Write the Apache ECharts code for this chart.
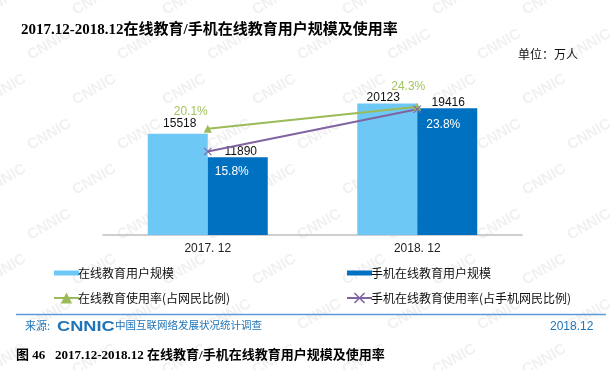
<!DOCTYPE html>
<html><head><meta charset="utf-8">
<script src="https://cdn.jsdelivr.net/npm/echarts@6/dist/echarts.min.js"></script>
<style>html,body{margin:0;padding:0;background:#fff}#c{width:610px;height:370px}</style>
</head><body><div id="c"></div>
<script>
// ---- data ----
const categories = ['2017. 12', '2018. 12'];
const onlineEduUsers = [15518, 20123];
const mobileEduUsers = [11890, 19416];
const onlineEduRate = [20.1, 24.3];
const mobileEduRate = [15.8, 23.8];
const seriesNames = ['在线教育用户规模', '手机在线教育用户规模', '在线教育使用率(占网民比例)', '手机在线教育使用率(占手机网民比例)'];

const CJK = "'Noto Sans CJK SC', sans-serif";
const SANS = "'Liberation Sans', 'Noto Sans CJK SC', sans-serif";
const SERIF = "'Liberation Serif', 'Noto Sans CJK SC', serif";
const lightBlue = '#6ec8f5';
const darkBlue = '#0070c0';
const green = '#9bbb59';
const purple = '#8064a2';
const xIcon = 'path://M0,1 L1,0 L5,4 L9,0 L10,1 L6,5 L10,9 L9,10 L5,6 L1,10 L0,9 L4,5 Z';

const lightOffsets = [[2, 0], [-4, 4]];
const darkOffsets = [[3, 4], [1, 4]];
const greenOffsets = [[-17, 5], [-9, 2]];
const purpleOffsets = [[24, 0], [26, -5]];

function withOffsets(vals, offs) {
  return vals.map((v, i) => ({ value: v, label: { offset: offs[i] } }));
}

// faint watermark tiles (decoration)
const watermark = [];
for (let r = 0; r < 9; r++) {
  for (let c = 0; c < 8; c++) {
    watermark.push({
      type: 'text', x: c * 90 + (r % 2) * 45 - 20, y: r * 45 + 5, rotation: Math.PI / 6, z: -10, silent: true,
      style: { text: 'CNNIC', font: 'bold 15px ' + SANS, fill: '#f1f1f1' }
    });
  }
}

const chart = echarts.init(document.getElementById('c'), null, { renderer: 'canvas' });
chart.setOption({
  backgroundColor: '#fff',
  animation: false,
  grid: { left: 103, right: 88, top: 75, bottom: 135, containLabel: false },
  xAxis: {
    type: 'category', data: categories,
    axisLine: { lineStyle: { color: '#bfbfbf', width: 1.5 } },
    axisTick: { show: false },
    axisLabel: { color: '#222', fontFamily: SANS, fontSize: 12, margin: 8 }
  },
  yAxis: [
    { type: 'value', min: 0, max: 24500, show: false, splitLine: { show: false } },
    { type: 'value', min: 0, max: 30.3, show: false, splitLine: { show: false } }
  ],
  legend: [
    {
      orient: 'vertical', left: 48, top: 262, itemGap: 13, itemWidth: 25, itemHeight: 14,
      textStyle: { fontFamily: CJK, fontSize: 12, color: '#111', padding: [0, 0, 0, -6] },
      data: [
        { name: seriesNames[0], icon: 'path://M0,0 h25 v5 h-25 Z' },
        { name: seriesNames[2] }
      ]
    },
    {
      orient: 'vertical', left: 341, top: 262, itemGap: 13, itemWidth: 25, itemHeight: 14,
      textStyle: { fontFamily: CJK, fontSize: 12, color: '#111', padding: [0, 0, 0, -6] },
      data: [
        { name: seriesNames[1], icon: 'path://M0,0 h25 v5 h-25 Z' },
        { name: seriesNames[3] }
      ]
    }
  ],
  series: [
    {
      name: seriesNames[0], type: 'bar', barWidth: 60, barGap: '0%',
      itemStyle: { color: lightBlue },
      label: { show: true, position: 'top', distance: 4, color: '#111', fontFamily: SANS, fontSize: 12 },
      data: withOffsets(onlineEduUsers, lightOffsets)
    },
    {
      name: seriesNames[1], type: 'bar', barWidth: 60, barGap: '0%',
      itemStyle: { color: darkBlue },
      label: { show: true, position: 'top', distance: 4, color: '#111', fontFamily: SANS, fontSize: 12 },
      data: withOffsets(mobileEduUsers, darkOffsets)
    },
    {
      name: seriesNames[2], type: 'line', yAxisIndex: 1,
      symbol: 'triangle', symbolSize: 8,
      lineStyle: { color: green, width: 2 }, itemStyle: { color: green },
      label: { show: true, position: 'top', distance: 12, color: '#a4c45e', fontFamily: SANS, fontSize: 12, formatter: p => p.value.toFixed(1) + '%' },
      data: withOffsets(onlineEduRate, greenOffsets)
    },
    {
      name: seriesNames[3], type: 'line', yAxisIndex: 1,
      symbol: xIcon, symbolSize: 8,
      lineStyle: { color: purple, width: 2 }, itemStyle: { color: purple },
      label: { show: true, position: 'bottom', distance: 10, color: '#fff', fontFamily: SANS, fontSize: 12, formatter: p => p.value.toFixed(1) + '%' },
      data: withOffsets(mobileEduRate, purpleOffsets)
    }
  ],
  graphic: watermark.concat([
    { type: 'text', left: 21, top: 23, style: { text: '2017.12-2018.12在线教育/手机在线教育用户规模及使用率', font: 'bold 15px ' + SERIF, fill: '#000' } },
    { type: 'text', left: 518, top: 48, style: { text: '单位：万人', font: '12px ' + CJK, fill: '#111' } },
    { type: 'line', shape: { x1: 16, y1: 314.5, x2: 606, y2: 314.5 }, style: { stroke: '#5b9bd5', lineWidth: 1.5 } },
    { type: 'text', left: 25, top: 320, style: { text: '来源:', font: '11px ' + CJK, fill: '#1f74b8' } },
    { type: 'text', x: 57, y: 320, scaleX: 1.3, style: { text: 'CNNIC', font: 'bold 14px ' + SANS, fill: '#1f74b8' } },
    { type: 'text', left: 115, top: 320, style: { text: '中国互联网络发展状况统计调查', font: '10.5px ' + CJK, fill: '#1f74b8' } },
    { type: 'text', left: 550, top: 321, style: { text: '2018.12', font: '12px ' + SANS, fill: '#1f74b8' } },
    { type: 'text', left: 16, top: 349, style: { text: '图 46   2017.12-2018.12 在线教育/手机在线教育用户规模及使用率', font: 'bold 13px ' + SERIF, fill: '#000' } }
  ])
});
</script></body></html>
